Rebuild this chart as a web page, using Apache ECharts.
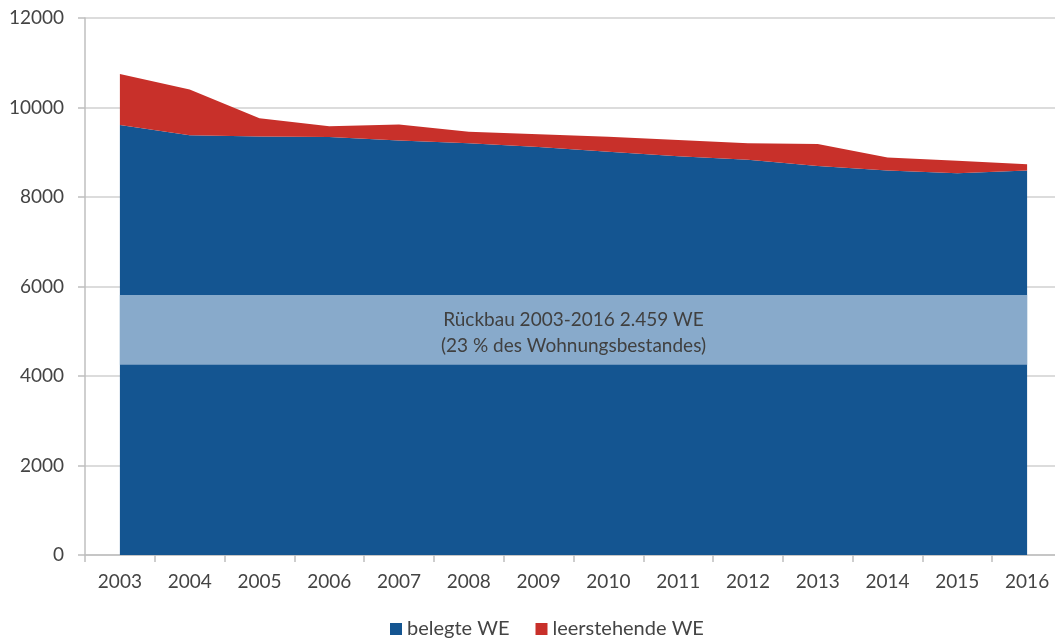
<!DOCTYPE html>
<html>
<head>
<meta charset="utf-8">
<script src="https://cdn.jsdelivr.net/npm/echarts@6/dist/echarts.min.js"></script>
<style>
  html, body { margin: 0; padding: 0; background: #ffffff; overflow: hidden; }
  /* the last category column runs a few pixels past the visible page edge */
  #chart { width: 1062px; height: 644px; }
</style>
</head>
<body>
<div id="chart"></div>
<script>
// Wohnungsbestand nach Jahren: belegte und leerstehende Wohneinheiten (WE)
const years = ['2003', '2004', '2005', '2006', '2007', '2008', '2009', '2010', '2011', '2012', '2013', '2014', '2015', '2016'];
const belegteWE = [9610, 9380, 9350, 9340, 9260, 9200, 9120, 9010, 8910, 8830, 8690, 8590, 8530, 8590];
const leerstehendeWE = [1140, 1020, 410, 240, 360, 260, 280, 335, 364, 370, 494, 290, 280, 140];
const yTicks = [0, 2000, 4000, 6000, 8000, 10000, 12000];
// Band marking the demolition (Rückbau) inside the occupied stock
const rueckbauBand = [4250, 5810];
const rueckbauText = ['Rückbau 2003-2016 2.459 WE', '(23 % des Wohnungsbestandes)'];

const FONT = 'Lato';
const TEXT = '#444444';
const chart = echarts.init(document.getElementById('chart'));
chart.setOption({
  animation: false,
  textStyle: { fontFamily: FONT },
  grid: { left: 85, right: 0, top: 18, bottom: 89, containLabel: false },
  legend: {
    bottom: 0,
    left: 385,
    itemWidth: 12,
    itemHeight: 12,
    itemGap: 26,
    icon: 'rect',
    textStyle: { fontFamily: FONT, fontSize: 20, color: TEXT },
    data: ['belegte WE', 'leerstehende WE']
  },
  xAxis: {
    type: 'category',
    data: years,
    boundaryGap: true,
    axisLine: { lineStyle: { color: '#bfbfbf', width: 1.5 } },
    axisTick: { show: true, length: 7, lineStyle: { color: '#bfbfbf', width: 1.5 } },
    axisLabel: { color: TEXT, fontSize: 19, margin: 17, fontFamily: FONT }
  },
  yAxis: {
    type: 'value',
    min: yTicks[0],
    max: yTicks[yTicks.length - 1],
    interval: yTicks[1] - yTicks[0],
    axisLine: { show: true, lineStyle: { color: '#bfbfbf', width: 1.5 } },
    axisTick: { show: true, length: 7, lineStyle: { color: '#bfbfbf', width: 1.5 } },
    splitLine: { lineStyle: { color: '#d0d0d0', width: 1.5 } },
    axisLabel: { color: TEXT, fontSize: 19, margin: 21, fontFamily: FONT, formatter: v => String(v) }
  },
  series: [
    {
      name: 'belegte WE',
      type: 'line',
      stack: 'bestand',
      data: belegteWE,
      symbol: 'none',
      lineStyle: { width: 0 },
      itemStyle: { color: '#145591' },
      areaStyle: { color: '#145591', opacity: 1 },
      z: 2,
      markArea: {
        silent: true,
        z: 5,
        itemStyle: { color: '#88aacb', opacity: 1 },
        label: {
          show: true,
          position: 'inside',
          color: '#404040',
          fontFamily: FONT,
          fontSize: 19,
          lineHeight: 26,
          offset: [0, 3],
          formatter: rueckbauText.join('\n')
        },
        data: [[
          { xAxis: years[0], yAxis: rueckbauBand[0] },
          { xAxis: years[years.length - 1], yAxis: rueckbauBand[1] }
        ]]
      }
    },
    {
      name: 'leerstehende WE',
      type: 'line',
      stack: 'bestand',
      data: leerstehendeWE,
      symbol: 'none',
      lineStyle: { width: 0 },
      itemStyle: { color: '#c8302a' },
      areaStyle: { color: '#c8302a', opacity: 1 },
      z: 2
    }
  ]
});
</script>
</body>
</html>
